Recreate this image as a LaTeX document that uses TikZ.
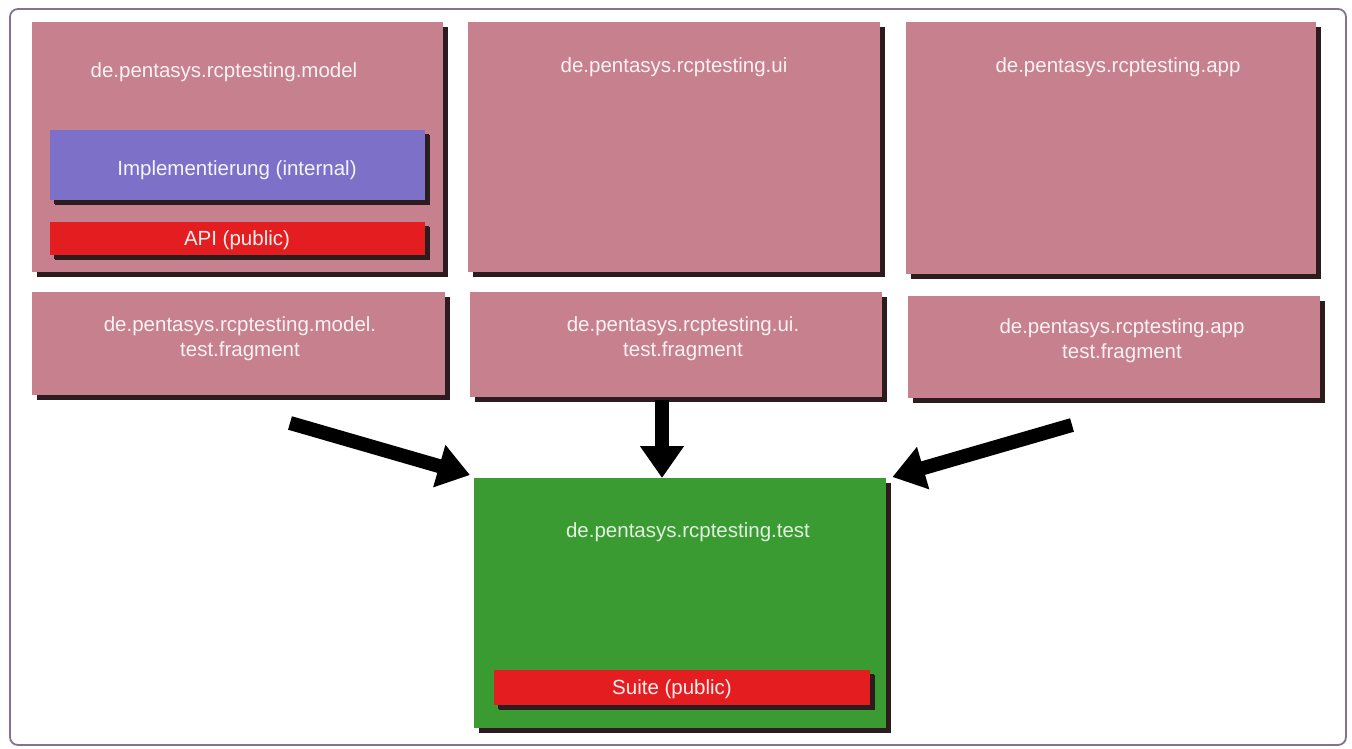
\documentclass[tikz,border=0pt]{standalone}
\usepackage{fontspec}
\setmainfont{Liberation Sans}
\usetikzlibrary{arrows.meta,shadows}
\definecolor{pinkbox}{RGB}{199,128,141}
\definecolor{implbox}{RGB}{124,112,200}
\definecolor{apired}{RGB}{228,30,32}
\definecolor{greenbox}{RGB}{58,155,50}
\definecolor{framec}{RGB}{130,115,150}
\definecolor{shadowc}{RGB}{45,28,30}
\begin{document}
\begin{tikzpicture}[x=1pt,y=-1pt,
  box/.style={draw=none, rectangle, anchor=north west, inner sep=0pt,
    drop shadow={shadow xshift=5pt, shadow yshift=-5pt, fill=shadowc, opacity=1}},
  pkg/.style={box, fill=pinkbox},
  inner/.style={box, drop shadow={shadow xshift=4pt, shadow yshift=-4pt, fill=shadowc, opacity=1}},
  txt/.style={font=\fontsize{20.5}{25}\selectfont, text=white!90!pinkbox, align=center, inner sep=0pt},
  gtxt/.style={txt, text=white!85!greenbox},
  bigarrow/.style={line width=14pt, draw=black, -{Triangle[length=32pt,width=42pt]}}
]
\useasboundingbox (0,0) rectangle (1352,749);
\fill[white] (0,0) rectangle (1352,749);
\draw[framec, line width=1.8pt, rounded corners=8pt] (10,9) rectangle (1346,745);

% top row
\node[pkg, minimum width=411pt, minimum height=250pt] (model) at (32,22) {};
\node[pkg, minimum width=412pt, minimum height=250pt] (ui) at (468,22) {};
\node[pkg, minimum width=410pt, minimum height=252pt] (app) at (906,22) {};
\node[txt] (modeltxt) at (224,72) {de.pentasys.rcptesting.model};
\node[txt] (uitxt) at (674,67) {de.pentasys.rcptesting.ui};
\node[txt] (apptxt) at (1118,67) {de.pentasys.rcptesting.app};

\node[inner, fill=implbox, minimum width=375pt, minimum height=70pt] (impl) at (50,130) {};
\node[txt, text=white!92!implbox] (impltxt) at (237,170) {Implementierung (internal)};
\node[inner, fill=apired, minimum width=375pt, minimum height=33pt] (api) at (50,222) {};
\node[txt, text=white!92!apired] (apitxt) at (237,240) {API (public)};

% fragments
\node[pkg, minimum width=413pt, minimum height=103pt] (modelfrag) at (32,292) {};
\node[pkg, minimum width=412pt, minimum height=105pt] (uifrag) at (470,292) {};
\node[pkg, minimum width=412pt, minimum height=102pt] (appfrag) at (908,296) {};
\node[txt] (modelfragtxt) at (240,339) {de.pentasys.rcptesting.model.\\test.fragment};
\node[txt] (uifragtxt) at (683,339) {de.pentasys.rcptesting.ui.\\test.fragment};
\node[txt] (appfragtxt) at (1122,341) {de.pentasys.rcptesting.app\\test.fragment};

% test bundle
\node[box, fill=greenbox, minimum width=412pt, minimum height=250pt] (test) at (474,478) {};
\node[gtxt] (testtxt) at (688,532) {de.pentasys.rcptesting.test};
\node[inner, fill=apired, minimum width=376pt, minimum height=35pt] (suite) at (494,670) {};
\node[txt, text=white!92!apired] (suitetxt) at (672,689) {Suite (public)};

% arrows
\coordinate (la) at (290,423);
\coordinate (ma) at (662,400);
\coordinate (ra) at (1072,425);
\draw[bigarrow] (la) -- ([xshift=-4pt,yshift=3pt]test.north west);
\draw[bigarrow] (ma) -- (ma |- test.north);
\draw[bigarrow] (ra) -- ([xshift=6pt,yshift=1pt]test.north east);
\end{tikzpicture}
\end{document}
